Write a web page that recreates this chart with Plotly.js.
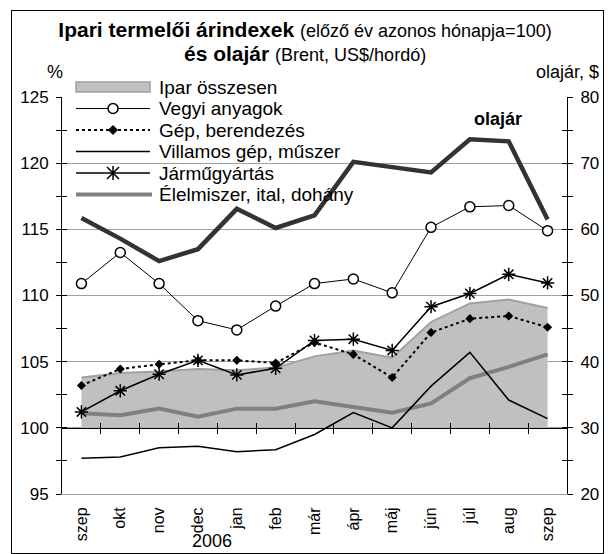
<!DOCTYPE html>
<html>
<head>
<meta charset="utf-8">
<script src="https://cdn.plot.ly/plotly-3.0.1.min.js"></script>
<style>
  html, body { margin: 0; padding: 0; background: #fff; }
  #wrap { position: relative; width: 610px; height: 554px; }
  #chart { width: 610px; height: 554px; }
  #frame { position: absolute; left: 11px; top: 10px; width: 591px; height: 542px;
           border: 1px solid #000; pointer-events: none; }
</style>
</head>
<body>
<div id="wrap">
  <div id="chart"></div>
  <div id="frame"></div>
</div>
<script>
// months, Sept 2005 .. Sept 2006
const months = ['szep', 'okt', 'nov', 'dec', 'jan', 'feb', 'már', 'ápr', 'máj', 'jún', 'júl', 'aug', 'szep'];

// producer price indices (same month of previous year = 100)
const ipar = [103.8, 104.15, 104.25, 104.45, 104.35, 104.55, 105.4, 105.85, 105.3, 108.0, 109.4, 109.7, 109.05];
const vegyi = [110.9, 113.25, 110.9, 108.1, 107.4, 109.2, 110.9, 111.25, 110.2, 115.15, 116.7, 116.8, 114.9];
const gep = [103.2, 104.45, 104.8, 105.1, 105.1, 104.9, 106.45, 105.55, 103.8, 107.2, 108.25, 108.45, 107.6];
const villamos = [97.7, 97.8, 98.5, 98.6, 98.2, 98.35, 99.5, 101.15, 100.0, 103.15, 105.7, 102.1, 100.7];
const jarmu = [101.2, 102.8, 104.05, 105.1, 104.0, 104.5, 106.6, 106.7, 105.85, 109.15, 110.15, 111.6, 110.95];
const elelmiszer = [101.1, 100.95, 101.45, 100.85, 101.45, 101.45, 102.0, 101.6, 101.15, 101.85, 103.75, 104.6, 105.55];

// Brent oil price, US$/barrel (right axis)
const olaj = [61.7, 58.6, 55.2, 57.0, 63.1, 60.2, 62.1, 70.2, 69.4, 68.6, 73.6, 73.3, 61.5];

const leftRange = [95, 125];
const rightRange = [20, 80];
const axisCross = 100; // category axis crosses the value axis here

const FONT = 'Liberation Sans, Arial, sans-serif';

const idx = months.map((m, i) => i);
const boundaries = idx.slice(1).map(i => i - 0.5);
const baseline = idx.map(() => axisCross);

// plot area in pixels, used to place the hand made legend and labels
const M = { l: 62, r: 43, t: 97, b: 60 };
const W = 610, H = 554;
const pw = W - M.l - M.r, ph = H - M.t - M.b;
const px = x => (x - M.l) / pw;
const py = y => (H - M.b - y) / ph;

// empty traces so the overlay axes (cross ticks) get drawn
const holder = (xa, ya) => ({ x: [], y: [], xaxis: xa, yaxis: ya, mode: 'lines', hoverinfo: 'skip', showlegend: false });

const traces = [
  { x: idx, y: baseline, mode: 'lines', line: { width: 0 }, hoverinfo: 'skip', showlegend: false },
  { x: idx, y: ipar, name: 'Ipar összesen', mode: 'lines', fill: 'tonexty',
    fillcolor: '#c0c0c0', line: { color: '#a0a0a0', width: 2 } },
  { x: idx, y: elelmiszer, name: 'Élelmiszer, ital, dohány', mode: 'lines',
    line: { color: '#808080', width: 4 } },
  { x: idx, y: villamos, name: 'Villamos gép, műszer', mode: 'lines',
    line: { color: '#000', width: 1.5 } },
  { x: idx, y: gep, name: 'Gép, berendezés', mode: 'lines+markers',
    line: { color: '#000', width: 2, dash: '3px,3px' },
    marker: { symbol: 'diamond', size: 7, color: '#000' } },
  { x: idx, y: jarmu, name: 'Járműgyártás', mode: 'lines+markers',
    line: { color: '#000', width: 1.5 },
    marker: { symbol: 'asterisk-open', size: 11, line: { color: '#000', width: 1.5 } } },
  { x: idx, y: vegyi, name: 'Vegyi anyagok', mode: 'lines+markers',
    line: { color: '#000', width: 1 },
    marker: { symbol: 'circle', size: 10, color: '#fff', line: { color: '#000', width: 1.5 } } },
  { x: idx, y: olaj, name: 'olajár', yaxis: 'y2', mode: 'lines',
    line: { color: '#333', width: 4.5 } },
  holder('x2', 'y'), holder('x3', 'y'), holder('x', 'y3'), holder('x', 'y4')
];

// legend, drawn by hand so the rows sit as close as in the original
const legendRows = [
  { label: 'Ipar összesen', y: 87 },
  { label: 'Vegyi anyagok', y: 108.5 },
  { label: 'Gép, berendezés', y: 130 },
  { label: 'Villamos gép, műszer', y: 151.5 },
  { label: 'Járműgyártás', y: 173 },
  { label: 'Élelmiszer, ital, dohány', y: 194.5 }
];
const lx0 = 76, lx1 = 150, lmid = 113;
const r = legendRows.map(d => d.y);

const shapes = [
  // white area behind the legend hides the gridlines there
  { type: 'rect', xref: 'paper', yref: 'paper', layer: 'between',
    x0: px(M.l + 1), x1: px(374), y0: py(205), y1: py(95),
    fillcolor: '#fff', line: { width: 0 } },
  // legend symbols
  { type: 'rect', xref: 'paper', yref: 'paper', x0: px(lx0), x1: px(lx1), y0: py(r[0] + 5), y1: py(r[0] - 5),
    fillcolor: '#c0c0c0', line: { color: '#a0a0a0', width: 1.5 } },
  { type: 'line', xref: 'paper', yref: 'paper', x0: px(lx0), x1: px(lx1), y0: py(r[1]), y1: py(r[1]),
    line: { color: '#000', width: 1 } },
  { type: 'circle', xref: 'paper', yref: 'paper', x0: px(lmid - 5), x1: px(lmid + 5), y0: py(r[1] + 5), y1: py(r[1] - 5),
    fillcolor: '#fff', line: { color: '#000', width: 1.5 } },
  { type: 'line', xref: 'paper', yref: 'paper', x0: px(lx0), x1: px(lx1), y0: py(r[2]), y1: py(r[2]),
    line: { color: '#000', width: 2, dash: '3px,3px' } },
  { type: 'path', xref: 'paper', yref: 'paper',
    path: `M${px(lmid)},${py(r[2] - 4.5)} L${px(lmid + 4.5)},${py(r[2])} L${px(lmid)},${py(r[2] + 4.5)} L${px(lmid - 4.5)},${py(r[2])} Z`,
    fillcolor: '#000', line: { color: '#000', width: 1 } },
  { type: 'line', xref: 'paper', yref: 'paper', x0: px(lx0), x1: px(lx1), y0: py(r[3]), y1: py(r[3]),
    line: { color: '#000', width: 1.5 } },
  { type: 'line', xref: 'paper', yref: 'paper', x0: px(lx0), x1: px(lx1), y0: py(r[4]), y1: py(r[4]),
    line: { color: '#000', width: 1.5 } },
  { type: 'path', xref: 'paper', yref: 'paper',
    path: `M${px(lmid - 6)},${py(r[4] - 6)} L${px(lmid + 6)},${py(r[4] + 6)} M${px(lmid + 6)},${py(r[4] - 6)} L${px(lmid - 6)},${py(r[4] + 6)} M${px(lmid)},${py(r[4] - 7)} L${px(lmid)},${py(r[4] + 7)}`,
    line: { color: '#000', width: 1.5 } },
  { type: 'line', xref: 'paper', yref: 'paper', x0: px(lx0), x1: px(lx1 + 2), y0: py(r[5]), y1: py(r[5]),
    line: { color: '#808080', width: 4 } }
];

const annotations = legendRows.map(d => ({
  text: d.label, xref: 'paper', yref: 'paper', x: px(157), y: py(d.y),
  xanchor: 'left', yanchor: 'middle', showarrow: false,
  font: { family: FONT, size: 19, color: '#000' }
}));
annotations.push(
  { text: '<b>és olajár</b> <span style="font-size:18px">(Brent, US$/hordó)</span>',
    xref: 'paper', yref: 'paper', x: px(305), y: py(53), xanchor: 'center', yanchor: 'middle',
    showarrow: false, font: { family: FONT, size: 21, color: '#000' } },
  { text: '%', xref: 'paper', yref: 'paper', x: px(55), y: py(72), xanchor: 'center', yanchor: 'middle',
    showarrow: false, font: { family: FONT, size: 18, color: '#000' } },
  { text: 'olajár, $', xref: 'paper', yref: 'paper', x: px(601), y: py(72), xanchor: 'right', yanchor: 'middle',
    showarrow: false, font: { family: FONT, size: 18, color: '#000' } },
  { text: '<b>olajár</b>', xref: 'paper', yref: 'paper', x: px(498), y: py(119), xanchor: 'center', yanchor: 'middle',
    showarrow: false, font: { family: FONT, size: 18, color: '#000' } },
  { text: '2006', xref: 'paper', yref: 'paper', x: px(212), y: py(541), xanchor: 'center', yanchor: 'middle',
    showarrow: false, font: { family: FONT, size: 18, color: '#000' } }
);

const tickFont = { family: FONT, size: 17, color: '#000' };
const crossTicks = { ticklen: 5, tickcolor: '#000', tickwidth: 1 };
const crossPos = (axisCross - leftRange[0]) / (leftRange[1] - leftRange[0]);

const layout = {
  width: W, height: H,
  margin: M,
  paper_bgcolor: '#fff', plot_bgcolor: '#fff',
  showlegend: false,
  font: { family: FONT, color: '#000' },
  title: {
    text: '<b>Ipari termelői árindexek</b> <span style="font-size:18px">(előző év azonos hónapja=100)</span>',
    font: { family: FONT, size: 21, color: '#000' },
    x: 0.5, xref: 'container', xanchor: 'center',
    y: 1 - 30 / H, yref: 'container', yanchor: 'middle'
  },
  xaxis: {
    range: [-0.5, 12.5], tickvals: idx, ticktext: months, tickangle: -90,
    ticks: '', showgrid: false, zeroline: false,
    showline: true, linecolor: '#a0a0a0', linewidth: 1,
    tickfont: { family: FONT, size: 16, color: '#000' }, ticklabelstandoff: 6
  },
  // category axis line at 100, with ticks crossing it
  xaxis2: Object.assign({
    overlaying: 'x', anchor: 'free', position: crossPos,
    range: [-0.5, 12.5], tickvals: boundaries, ticks: 'outside',
    showticklabels: false, showgrid: false, zeroline: false,
    showline: true, linecolor: '#000', linewidth: 1
  }, crossTicks),
  xaxis3: Object.assign({
    overlaying: 'x', anchor: 'free', position: crossPos,
    range: [-0.5, 12.5], tickvals: boundaries, ticks: 'inside',
    showticklabels: false, showgrid: false, zeroline: false, showline: false
  }, crossTicks),
  yaxis: Object.assign({
    range: leftRange, tick0: 95, dtick: 5, ticks: 'outside',
    showline: true, linecolor: '#000', linewidth: 1,
    showgrid: true, gridcolor: '#a0a0a0', gridwidth: 1, zeroline: false,
    minor: { dtick: 2.5, ticks: 'outside', ticklen: 5, tickcolor: '#000', showgrid: false },
    tickfont: tickFont, ticklabelstandoff: 4
  }, crossTicks),
  yaxis3: Object.assign({
    overlaying: 'y', side: 'left', range: leftRange, tick0: 95, dtick: 5, ticks: 'inside',
    showticklabels: false, showgrid: false, zeroline: false, showline: false,
    minor: { dtick: 2.5, ticks: 'inside', ticklen: 5, tickcolor: '#000', showgrid: false }
  }, crossTicks),
  yaxis2: Object.assign({
    overlaying: 'y', side: 'right', range: rightRange, tick0: 20, dtick: 10, ticks: 'outside',
    showline: true, linecolor: '#000', linewidth: 1,
    showgrid: false, zeroline: false,
    minor: { dtick: 5, ticks: 'outside', ticklen: 5, tickcolor: '#000', showgrid: false },
    tickfont: tickFont, ticklabelstandoff: 4
  }, crossTicks),
  yaxis4: Object.assign({
    overlaying: 'y', side: 'right', range: rightRange, tick0: 20, dtick: 10, ticks: 'inside',
    showticklabels: false, showgrid: false, zeroline: false, showline: false,
    minor: { dtick: 5, ticks: 'inside', ticklen: 5, tickcolor: '#000', showgrid: false }
  }, crossTicks),
  shapes: shapes,
  annotations: annotations
};

Plotly.newPlot('chart', traces, layout, { staticPlot: true });
</script>
</body>
</html>
